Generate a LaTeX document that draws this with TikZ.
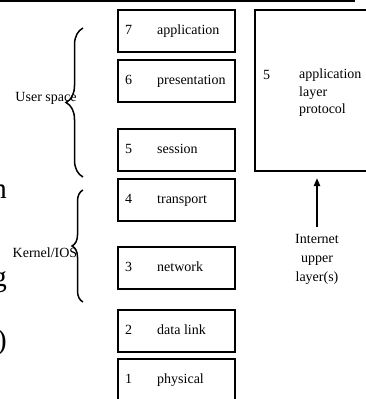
\documentclass[tikz,border=0pt]{standalone}
\usepackage{fontspec}
\setmainfont{Liberation Serif}
\usetikzlibrary{positioning, arrows.meta, decorations.pathreplacing}

\begin{document}
\begin{tikzpicture}[x = 1pt, y = -1pt,
    every node/.style = { font = \fontsize{14}{17.5}\selectfont, inner sep = 0pt },
    layer/.style = { draw, line width = 2pt, minimum width = 117pt, minimum height = 42pt, anchor = north west },
    lname/.style = { anchor = west, text height = 10pt, text depth = 3pt },
    big/.style = { anchor = base east, font = \fontsize{29}{34}\selectfont },
    brace/.style = { decorate, decoration = { brace, amplitude = #1 }, line width = 1.5pt }]
  \useasboundingbox (0,0) rectangle (366,399);
  \draw [line width = 1.5pt] (0,1) -- (355,1);

  % the seven layers
  \node (l7) [layer] at (117,9) {};
  \node (l6) [layer] at (117,59) {};
  \node (l5) [layer] at (117,128) {};
  \node (l4) [layer] at (117,178) {};
  \node (l3) [layer] at (117,246) {};
  \node (l2) [layer] at (117,309) {};
  \node (l1) [layer] at (117,358) {};

  \node (n7) [lname, right = 8pt of l7.west] {7};
  \node (t7) [lname, right = 40pt of l7.west] {application};
  \node (n6) [lname, right = 8pt of l6.west] {6};
  \node (t6) [lname, right = 40pt of l6.west] {presentation};
  \node (n5) [lname, right = 8pt of l5.west] {5};
  \node (t5) [lname, right = 40pt of l5.west] {session};
  \node (n4) [lname, right = 8pt of l4.west] {4};
  \node (t4) [lname, right = 40pt of l4.west] {transport};
  \node (n3) [lname, right = 8pt of l3.west] {3};
  \node (t3) [lname, right = 40pt of l3.west] {network};
  \node (n2) [lname, right = 8pt of l2.west] {2};
  \node (t2) [lname, right = 40pt of l2.west] {data link};
  \node (n1) [lname, right = 8pt of l1.west] {1};
  \node (t1) [lname, right = 40pt of l1.west] {physical};

  % internet side
  \node (proto) [layer, minimum width = 124pt, minimum height = 161pt] at (254,9) {};
  \node (p5) [anchor = base west] at (263,79) {5};
  \node (ptext) [anchor = north west, align = left] at (299,69) {application\\layer\\protocol};
  \node (net) [anchor = north, align = center, font = \fontsize{14}{19}\selectfont] at (317,234) {Internet\\upper\\layer(s)};
  \draw [line width = 2pt, -{Triangle[width = 6pt, length = 8pt]}, shorten < = 7pt, shorten > = 6pt] (net.north) -- (proto.south);

  % braces
  \draw [brace = 17pt] (83,177) -- (83,28);
  \node (user) at (46,98) {User space};
  \draw [brace = 11pt] (83,302) -- (83,190);
  \node (kern) at (45,253) {Kernel/IOS};

  % cut off text on the left
  \node (fn) [big] at (7,198) {n};
  \node (fg) [big] at (7,286) {g};
  \node (fp) [big] at (7,349) {)};
\end{tikzpicture}
\end{document}
